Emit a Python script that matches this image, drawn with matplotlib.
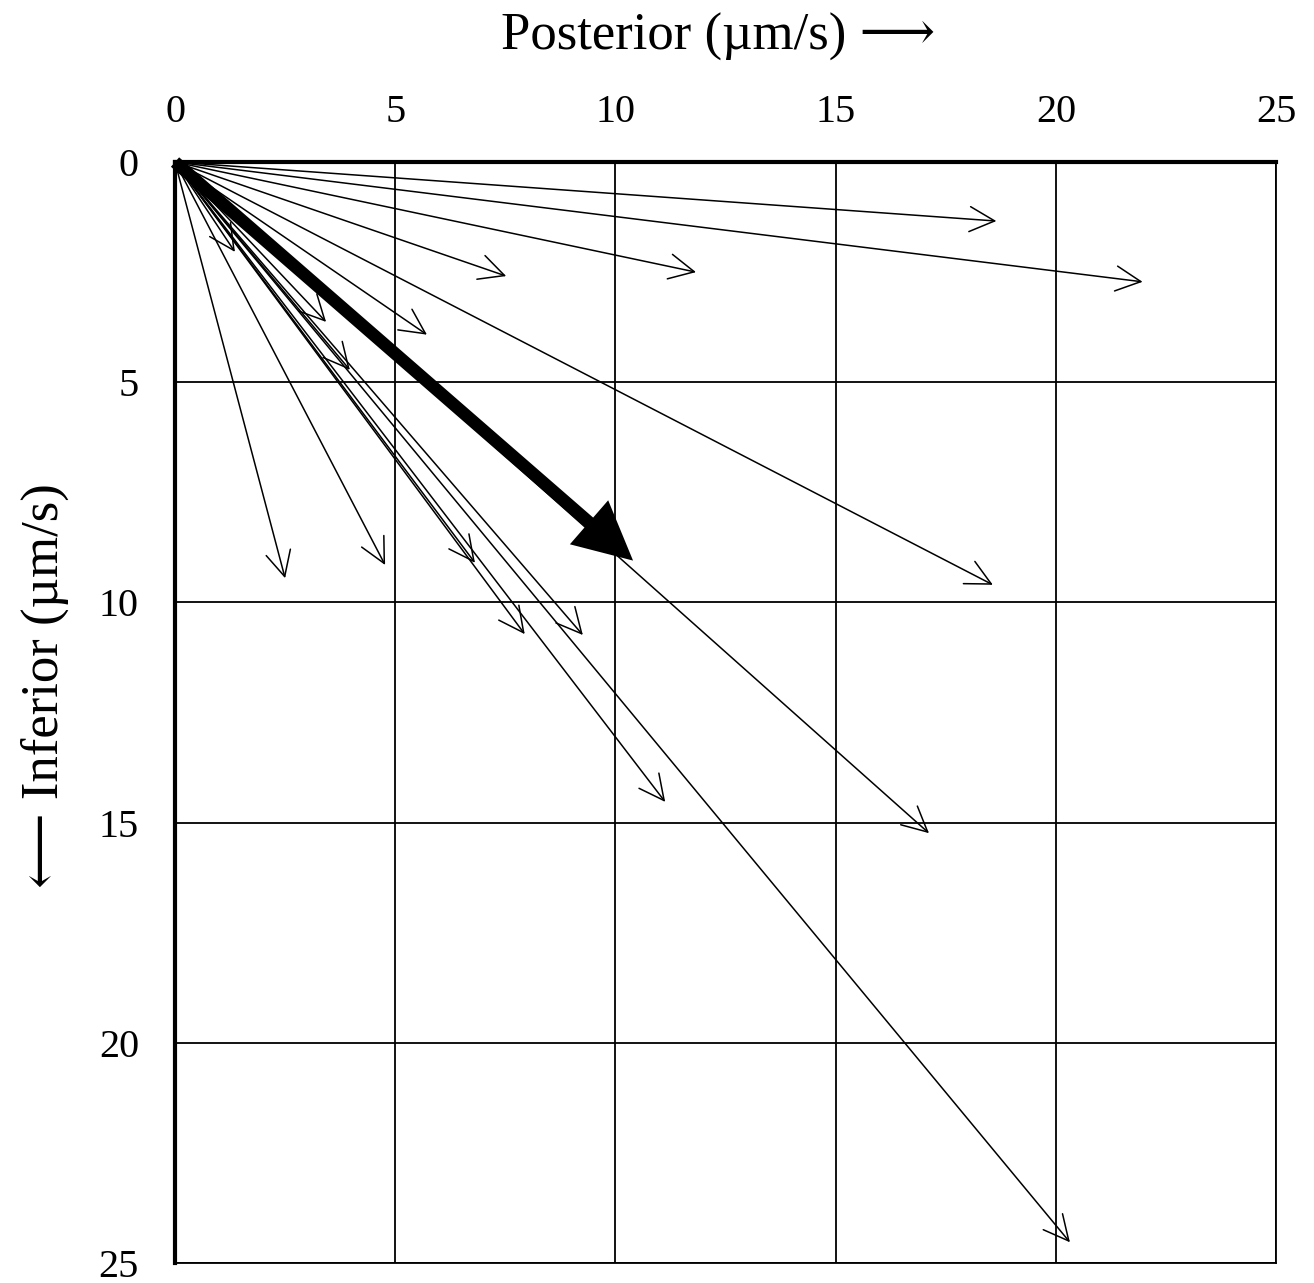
import matplotlib.pyplot as plt

# end points of the velocity vectors (all start at the origin)
posterior = [18.65, 21.97, 11.83, 7.52, 5.72, 18.57, 17.12, 20.32, 11.13,
             9.26, 7.94, 6.81, 4.77, 2.50, 1.36, 3.43, 3.97]
inferior = [1.34, 2.72, 2.50, 2.59, 3.92, 9.60, 15.24, 24.53, 14.53,
            10.74, 10.72, 9.10, 9.15, 9.45, 2.04, 3.63, 4.72]

# mean vector (thick arrow)
mean_posterior = 10.40
mean_inferior = 9.05

ticks = [0, 5, 10, 15, 20, 25]

serif = ["Liberation Serif", "DejaVu Serif"]
plt.rcParams["font.family"] = serif

fig = plt.figure(figsize=(13.14, 12.83), dpi=100)
ax = fig.add_axes([0.1332, 0.0156, 0.8379, 0.8581])

ax.set_xlim(0, 25)
ax.set_ylim(25, 0)
ax.set_xticks(ticks)
ax.set_yticks(ticks)
ax.xaxis.tick_top()
ax.tick_params(length=0, labelsize=29, pad=22)
ax.tick_params(axis="y", pad=26)
ax.grid(True, color="black", lw=1.3)
ax.set_axisbelow(True)

for side in ["top", "left"]:
    ax.spines[side].set_linewidth(3)
for side in ["bottom", "right"]:
    ax.spines[side].set_linewidth(1.3)

for px, iy in zip(posterior, inferior):
    ax.annotate("", xy=(px, iy), xytext=(0, 0),
                arrowprops=dict(arrowstyle="->,head_length=0.9,head_width=0.45",
                                mutation_scale=20, lw=1.1, color="black",
                                shrinkA=0, shrinkB=0))

ax.annotate("", xy=(mean_posterior, mean_inferior), xytext=(0, 0),
            arrowprops=dict(arrowstyle="simple,head_length=2.1,head_width=2.1,tail_width=0.45",
                            mutation_scale=20, lw=0, color="black",
                            shrinkA=0, shrinkB=0))

fig.text(0.5465, 0.971, "Posterior (\u00b5m/s) \u27f6", ha="center", va="center",
         fontsize=38, family=serif)
fig.text(0.034, 0.466, "\u27f5 Inferior (\u00b5m/s)", ha="center", va="center",
         fontsize=38, rotation=90, family=serif)

fig.savefig("out.png", dpi=100)
